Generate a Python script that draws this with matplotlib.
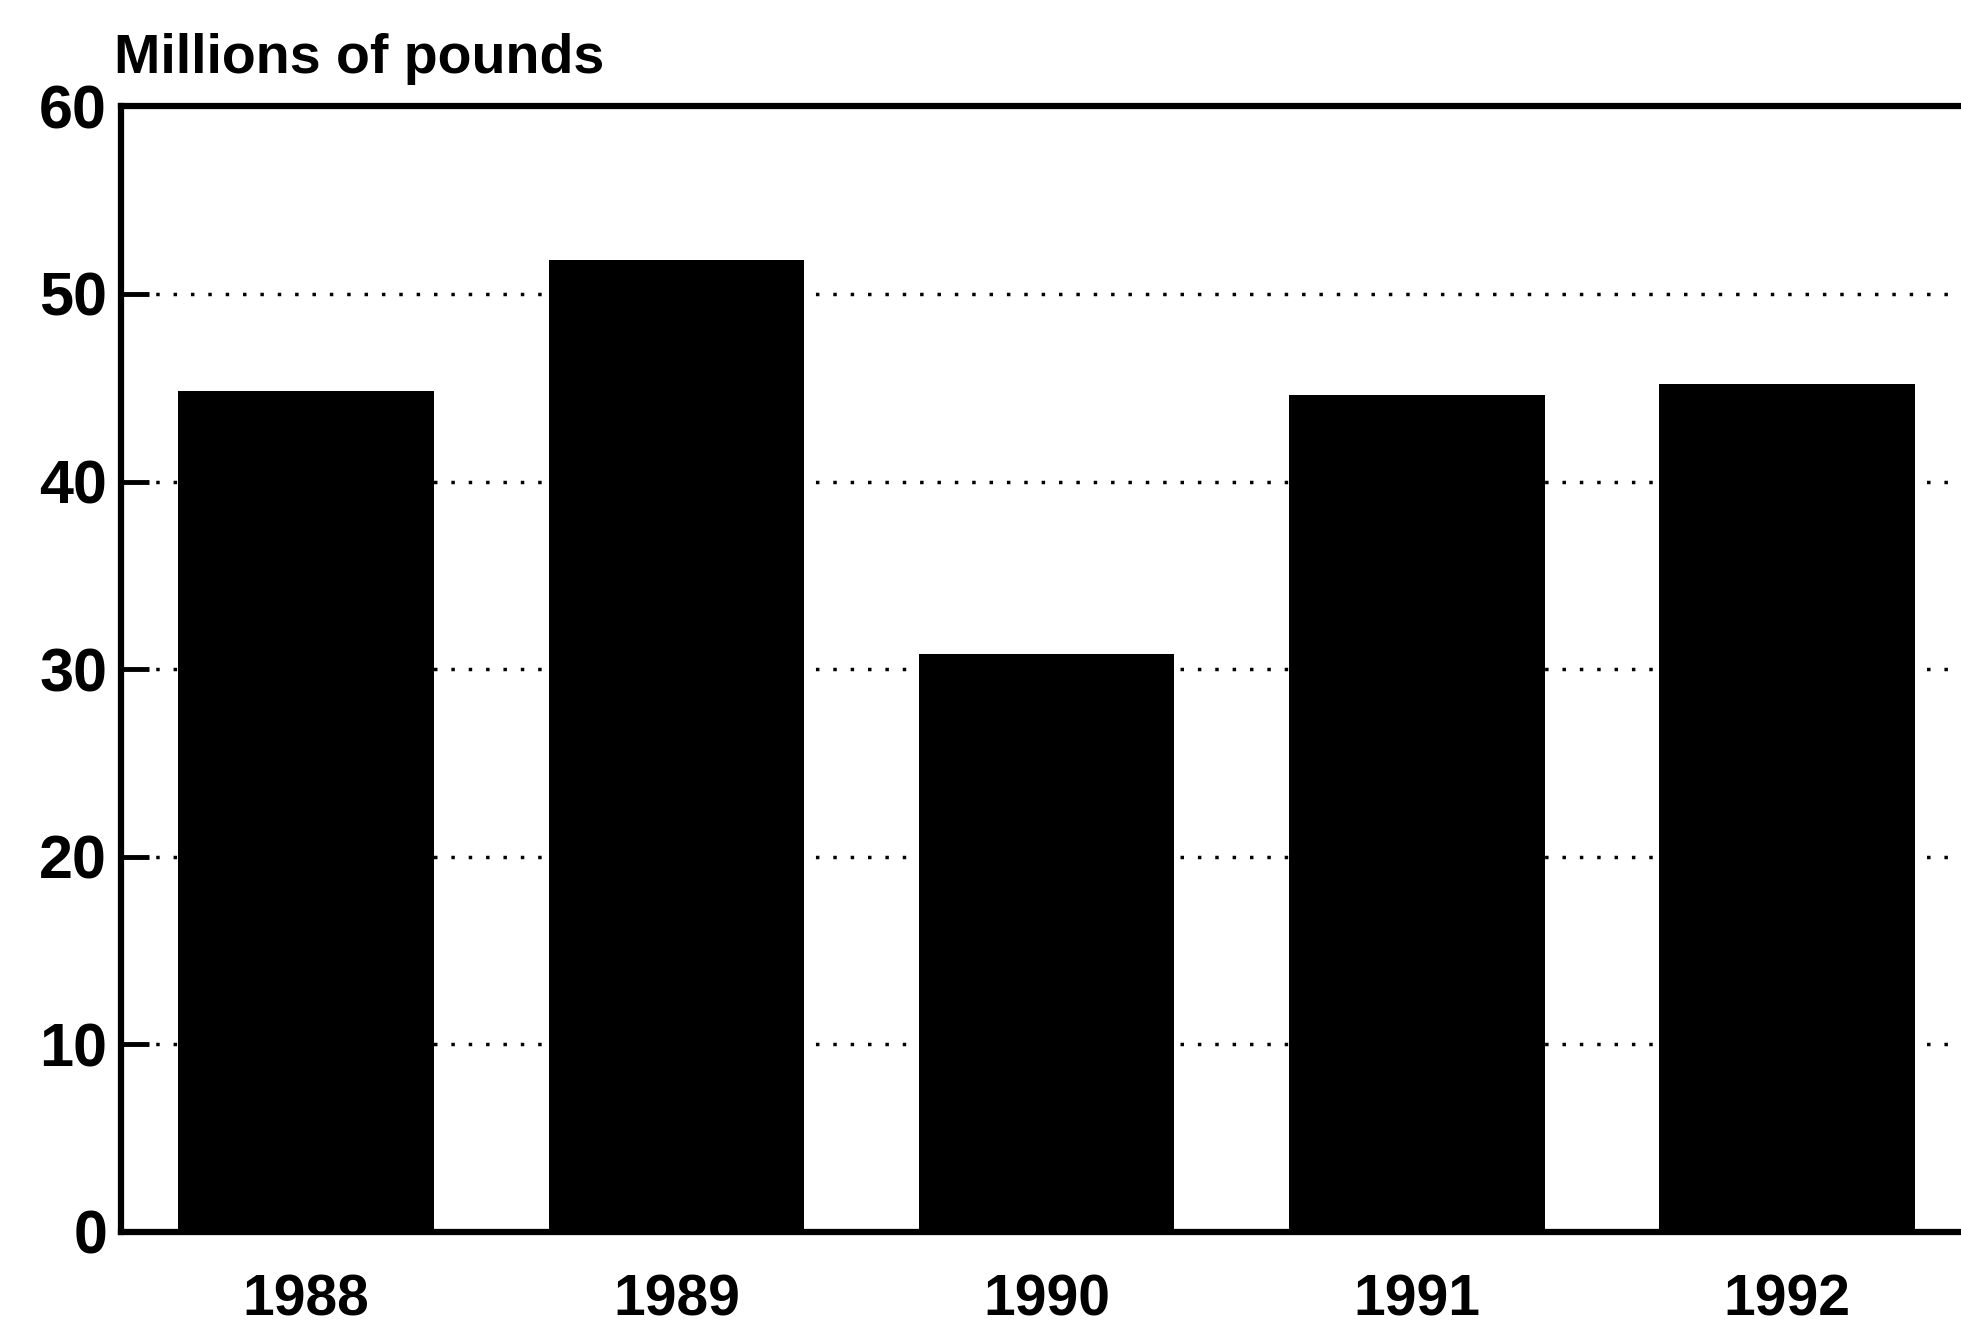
import matplotlib.pyplot as plt

# Data
years = ["1988", "1989", "1990", "1991", "1992"]
values = [44.8, 51.8, 30.8, 44.6, 45.2]
y_ticks = [0, 10, 20, 30, 40, 50, 60]

fonts = ["Liberation Sans", "DejaVu Sans"]
plt.rcParams["font.family"] = fonts
plt.rcParams["font.weight"] = "bold"

fig = plt.figure(figsize=(19.61, 13.29), dpi=100)
# axes run slightly past the right edge, like the cropped scan
ax = fig.add_axes([0.0617, 0.073, 0.944, 0.847])

x = range(len(years))
ax.bar(x, values, width=0.69, color="black", zorder=3)

ax.set_xlim(-0.5, len(years) - 0.5)
ax.set_ylim(0, 60)
ax.set_yticks(y_ticks)
ax.set_xticks(list(x))
ax.set_xticklabels(years)

# sparse dotted grid lines
ax.yaxis.grid(True, color="black", linewidth=2.5, linestyle=(0, (1, 4)), zorder=0)
ax.set_axisbelow(True)

for s in ax.spines.values():
    s.set_linewidth(4.5)
    s.set_color("black")

ax.tick_params(axis="y", direction="in", length=20, width=3.5, pad=10,
               labelsize=44)
ax.tick_params(axis="x", length=0, pad=30, labelsize=41)
for lab in ax.get_xticklabels() + ax.get_yticklabels():
    lab.set_fontweight("bold")

fig.text(0.058, 0.945, "Millions of pounds", fontsize=40, fontweight="bold",
         ha="left", va="baseline")

fig.savefig("out.png", dpi=100, facecolor="white")
